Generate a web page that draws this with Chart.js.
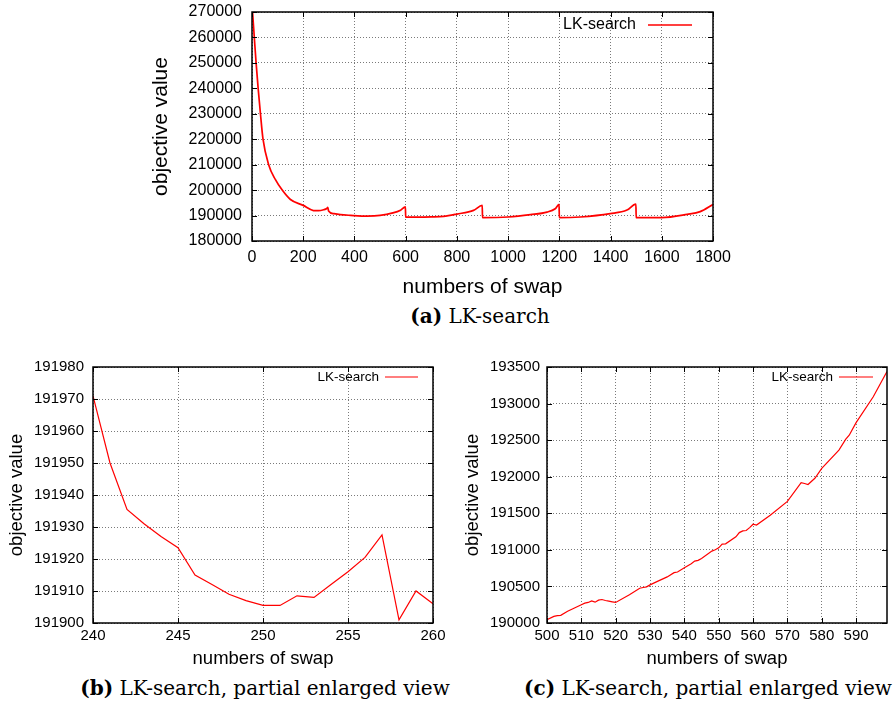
<!DOCTYPE html>
<html>
<head>
<meta charset="utf-8">
<script src="https://cdn.jsdelivr.net/npm/chart.js@4.4.1/dist/chart.umd.min.js"></script>
<style>
  body { margin: 0; background: #fff; width: 894px; height: 702px; position: relative; overflow: hidden; }
  canvas { position: absolute; }
  .pie { position: absolute; font-family: "DejaVu Serif", serif; font-size: 20px; color: #000;
         white-space: nowrap; transform: translate(-50%, -50%); }
</style>
</head>
<body>
<canvas id="grafA" width="600" height="300" style="left:140px;top:0px;"></canvas>
<canvas id="grafB" width="450" height="325" style="left:0px;top:350px;"></canvas>
<canvas id="grafC" width="444" height="325" style="left:450px;top:350px;"></canvas>
<div class="pie" style="left:480px;top:316px;"><b>(a)</b> LK-search</div>
<div class="pie" style="left:265px;top:688px;"><b>(b)</b> LK-search, partial enlarged view</div>
<div class="pie" style="left:708px;top:688px;"><b>(c)</b> LK-search, partial enlarged view</div>
<script>
// (a) whole run
var swapsA = [0, 9, 16, 24, 33, 43, 65, 91, 118, 150, 200, 240, 250, 260, 280, 292, 296, 299, 320, 345,
              385, 450, 500, 550, 580, 599, 600, 650, 700, 748, 800, 865, 899, 900, 1000, 1087, 1152, 1184, 1199, 1200,
              1282, 1399, 1464, 1499, 1500, 1600, 1699, 1750, 1800];
var valuesA = [273000, 260000, 250000, 240000, 230000, 220000, 210000, 204200, 200000, 196300,
               194000, 191970, 191905, 191906, 192300, 192800, 193200, 191800, 190730, 190340,
               190070, 189800, 190045, 191030, 192115, 193440, 189350, 189350, 189450, 189670,
               190580, 192030, 194000, 189170, 189430, 190340, 191360, 192690, 194380, 189170,
               189430, 190730, 192150, 194500, 189170, 189170, 190460, 191550, 194380];

// (b) swaps 240-260
var swapsB = [240, 241, 242, 243, 244, 245, 246, 247, 248, 249, 250, 251, 252, 253, 254, 255, 256, 257, 258, 259, 260];
var valuesB = [191971, 191950, 191935.5, 191931, 191927, 191923.5, 191915, 191912, 191909, 191907, 191905.5,
               191905.5, 191908.5, 191908, 191912, 191916, 191920.5, 191927.5, 191901, 191910, 191906];

// (c) swaps 500-599
var swapsC = [500, 502, 503, 504, 506, 508, 510, 511, 512, 513, 514, 515, 516, 517, 518, 519, 520, 524, 527, 528,
              529, 530, 532, 535, 537, 538, 540, 542, 543, 544, 545, 548, 549, 550, 551, 552, 555, 556, 557, 558,
              559, 560, 561, 565, 570, 574, 575, 576, 578, 580, 585, 587, 588, 590, 595, 599];
var valuesC = [190045, 190090, 190100, 190105, 190160, 190205, 190249, 190272, 190281, 190303,
               190285, 190312, 190321, 190308, 190300, 190290, 190281, 190385, 190475, 190485,
               190494, 190521, 190566, 190630, 190688, 190697, 190756, 190811, 190847, 190856,
               190883, 190983, 191001, 191028, 191078, 191082, 191178, 191236, 191259, 191264,
               191304, 191350, 191340, 191472, 191662, 191920, 191907, 191893, 191979, 192115,
               192364, 192514, 192568, 192740, 193093, 193437];

var etiqueta = "LK-search";
var tituloX = "numbers of swap";
var tituloY = "objective value";
var fuente = "'Liberation Sans', Arial, sans-serif";

/**
 * Marco tipo gnuplot: caja negra, marcas hacia dentro y la clave arriba a la derecha
 */
var marcoGnuplot = {
    id: "marco",
    afterDatasetsDraw: function (chart, args, o) {
        var ctx = chart.ctx;
        var area = chart.chartArea;
        var sx = chart.scales.x;
        var sy = chart.scales.y;
        ctx.save();
        ctx.strokeStyle = "#000";
        ctx.lineWidth = 1;
        ctx.beginPath();
        sx.ticks.forEach(function (t) {
            var px = Math.round(sx.getPixelForValue(t.value)) + 0.5;
            ctx.moveTo(px, area.bottom); ctx.lineTo(px, area.bottom - o.tick);
            ctx.moveTo(px, area.top); ctx.lineTo(px, area.top + o.tick);
        });
        sy.ticks.forEach(function (t) {
            var py = Math.round(sy.getPixelForValue(t.value)) + 0.5;
            ctx.moveTo(area.left, py); ctx.lineTo(area.left + o.tick, py);
            ctx.moveTo(area.right, py); ctx.lineTo(area.right - o.tick, py);
        });
        ctx.stroke();
        ctx.lineWidth = 1.5;
        ctx.strokeRect(area.left, area.top, area.right - area.left, area.bottom - area.top);

        // clave
        var ds = chart.data.datasets[0];
        var y = area.top + o.dy;
        var x1 = area.right - o.dx;
        var x0 = x1 - o.len;
        ctx.strokeStyle = ds.borderColor;
        ctx.lineWidth = ds.borderWidth;
        ctx.beginPath();
        ctx.moveTo(x0, y); ctx.lineTo(x1, y);
        ctx.stroke();
        ctx.fillStyle = "#000";
        ctx.font = o.size + "px " + fuente;
        ctx.textAlign = "right";
        ctx.textBaseline = "middle";
        ctx.fillText(ds.label, x0 - o.gap, y);
        ctx.restore();
    }
};

function sinComas(v) {
    return String(v);
}

/**
 * Crea un gráfico de línea con el aspecto de gnuplot
 */
function cargaGrafico(id, xs, ys, p) {
    var puntos = xs.map(function (x, i) { return { x: x, y: ys[i] }; });

    var datos = {
        datasets: [{
            label: etiqueta,
            data: puntos,
            borderColor: "#ff0000",
            borderWidth: p.linea,
            pointRadius: 0,
            fill: false,
            cubicInterpolationMode: p.suave ? "monotone" : "default",
            tension: 0
        }]
    };

    var config = {
        type: "line",
        data: datos,
        plugins: [marcoGnuplot],
        options: {
            responsive: false,
            animation: false,
            layout: { padding: p.relleno },
            plugins: {
                legend: { display: false },
                tooltip: { enabled: false },
                marco: p.clave
            },
            scales: {
                x: {
                    type: "linear",
                    min: p.xRango[0],
                    max: p.xRango[1],
                    grid: { color: "#7a7a7a", lineWidth: 1, drawTicks: false },
                    border: { display: false, dash: [1, 2] },
                    ticks: {
                        stepSize: p.xPaso,
                        includeBounds: false,
                        maxRotation: 0,
                        color: "#000",
                        padding: p.xPad,
                        font: { family: fuente, size: p.tamTick },
                        callback: sinComas
                    },
                    title: {
                        display: true,
                        text: tituloX,
                        color: "#000",
                        font: { family: fuente, size: p.tamTitulo },
                        padding: { top: 0, bottom: p.xTitPad }
                    },
                    afterFit: function (s) {
                        s.height = p.altoX;
                        s.paddingLeft = 0;
                        s.paddingRight = 0;
                    }
                },
                y: {
                    min: p.yRango[0],
                    max: p.yRango[1],
                    grid: { color: "#7a7a7a", lineWidth: 1, drawTicks: false },
                    border: { display: false, dash: [1, 2] },
                    ticks: {
                        stepSize: p.yPaso,
                        color: "#000",
                        padding: p.yPad,
                        font: { family: fuente, size: p.tamTick },
                        callback: sinComas
                    },
                    title: {
                        display: true,
                        text: tituloY,
                        color: "#000",
                        font: { family: fuente, size: p.tamTitulo },
                        padding: { top: p.yTitPad, bottom: 0 }
                    },
                    afterFit: function (s) {
                        s.width = p.anchoY;
                        s.paddingTop = 0;
                        s.paddingBottom = 0;
                    }
                }
            }
        }
    };

    var grafico = document.getElementById(id).getContext("2d");
    new Chart(grafico, config);
}

cargaGrafico("grafA", swapsA, valuesA, {
    linea: 1.7, suave: true,
    relleno: { top: 12, right: 27, bottom: 0, left: 0 },
    xRango: [0, 1800], xPaso: 200, yRango: [180000, 270000], yPaso: 10000,
    tamTick: 16, tamTitulo: 21, xPad: 7, yPad: 10, xTitPad: 0, yTitPad: 8.4,
    altoX: 59, anchoY: 112,
    clave: { tick: 5, dy: 13, dx: 21, len: 44, gap: 12, size: 16 }
});

cargaGrafico("grafB", swapsB, valuesB, {
    linea: 1.2, suave: false,
    relleno: { top: 17, right: 17, bottom: 0, left: 0 },
    xRango: [240, 260], xPaso: 5, yRango: [191900, 191980], yPaso: 10,
    tamTick: 15, tamTitulo: 18.5, xPad: 4, yPad: 9, xTitPad: 5, yTitPad: 5.6,
    altoX: 52, anchoY: 93,
    clave: { tick: 5, dy: 10, dx: 15, len: 33, gap: 6, size: 13.5 }
});

cargaGrafico("grafC", swapsC, valuesC, {
    linea: 1.2, suave: false,
    relleno: { top: 17, right: 7, bottom: 0, left: 0 },
    xRango: [500, 599], xPaso: 10, yRango: [190000, 193500], yPaso: 500,
    tamTick: 15, tamTitulo: 18.5, xPad: 4, yPad: 7, xTitPad: 5, yTitPad: 12.2,
    altoX: 52, anchoY: 97,
    clave: { tick: 5, dy: 10, dx: 14, len: 34, gap: 6, size: 13.5 }
});
</script>
</body>
</html>
